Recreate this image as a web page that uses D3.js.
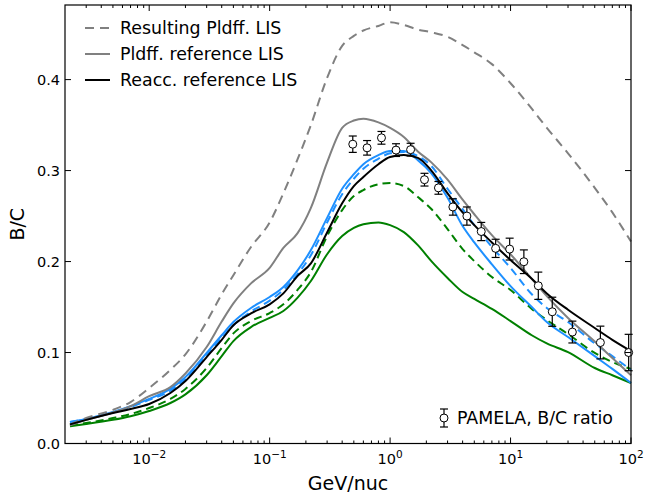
<!DOCTYPE html>
<html>
<head>
<meta charset="utf-8">
<script src="https://cdn.jsdelivr.net/npm/d3@7"></script>
<style>
  body { margin: 0; background: #fff; }
  text { font-family: "DejaVu Sans", sans-serif; fill: #000; }
</style>
</head>
<body>
<div id="chart"></div>
<script>
// kinetic energy grid (GeV/nuc) shared by the model curves
const energies = [0.0022, 0.003, 0.005, 0.007, 0.01, 0.015, 0.02, 0.03, 0.04, 0.05, 0.07,
  0.1, 0.13, 0.17, 0.22, 0.3, 0.4, 0.5, 0.6, 0.8, 1.0, 1.3, 1.7, 2.2, 3, 4, 5, 7,
  10, 15, 20, 30, 50, 70, 100];

const resultingPldff = [0.021, 0.028, 0.037, 0.0456, 0.061, 0.081, 0.098, 0.134, 0.164, 0.185, 0.216,
  0.243, 0.275, 0.312, 0.35, 0.402, 0.437, 0.448, 0.454, 0.459, 0.463, 0.46, 0.455, 0.452, 0.447, 0.438, 0.43, 0.417,
  0.396, 0.368, 0.347, 0.319, 0.281, 0.254, 0.222];
const pldffRef = [0.02, 0.026, 0.034, 0.041, 0.052, 0.062, 0.077, 0.106, 0.134, 0.154, 0.176,
  0.193, 0.215, 0.231, 0.259, 0.309, 0.347, 0.355, 0.357, 0.353, 0.347, 0.337, 0.321, 0.309, 0.29, 0.268, 0.252, 0.229,
  0.208, 0.181, 0.162, 0.138, 0.112, 0.094, 0.075];
const reaccRef = [0.021, 0.026, 0.0335, 0.038, 0.0434, 0.0555, 0.0687, 0.095, 0.114, 0.13, 0.143,
  0.153, 0.165, 0.184, 0.198, 0.232, 0.264, 0.283, 0.293, 0.307, 0.315, 0.317, 0.314, 0.3, 0.275, 0.254, 0.24, 0.221,
  0.2016, 0.181, 0.165, 0.147, 0.127, 0.114, 0.1016];
const blueSolid = [0.0236, 0.027, 0.0346, 0.041, 0.049, 0.06, 0.073, 0.0995, 0.119, 0.1335, 0.149,
  0.161, 0.172, 0.19, 0.2126, 0.248, 0.28, 0.296, 0.307, 0.317, 0.3215, 0.3215, 0.3115, 0.297, 0.27, 0.239, 0.221, 0.197,
  0.173, 0.15, 0.1335, 0.117, 0.096, 0.082, 0.0665];
const blueDashed = [0.0236, 0.027, 0.034, 0.04, 0.048, 0.058, 0.071, 0.097, 0.116, 0.13, 0.145,
  0.157, 0.169, 0.186, 0.207, 0.243, 0.274, 0.291, 0.302, 0.313, 0.319, 0.3205, 0.316, 0.305, 0.28, 0.2577, 0.24, 0.216,
  0.193, 0.164, 0.149, 0.1335, 0.11, 0.096, 0.0808];
const greenSolid = [0.019, 0.0214, 0.026, 0.03, 0.0357, 0.0445, 0.054, 0.075, 0.096, 0.1126, 0.128,
  0.138, 0.1456, 0.16, 0.1786, 0.208, 0.228, 0.237, 0.241, 0.243, 0.24, 0.2324, 0.218, 0.2005, 0.182, 0.1665, 0.159, 0.148,
  0.1346, 0.119, 0.11, 0.1005, 0.083, 0.075, 0.0665];
const greenDashed = [0.0203, 0.0225, 0.028, 0.0324, 0.039, 0.049, 0.06, 0.083, 0.105, 0.121, 0.1346,
  0.1434, 0.153, 0.1687, 0.1885, 0.228, 0.2566, 0.272, 0.2786, 0.285, 0.2863, 0.283, 0.271, 0.2577, 0.2357, 0.2137, 0.2005, 0.183,
  0.1687, 0.148, 0.1357, 0.1203, 0.0995, 0.0896, 0.0819];

// PAMELA B/C measurements
const pamelaE = [0.49, 0.644, 0.848, 1.12, 1.48, 1.93, 2.52, 3.32, 4.34, 5.71, 7.52, 9.83, 12.9, 17.0, 22.2, 32.6, 55.7, 95.6];
const pamelaBC = [0.329, 0.325, 0.336, 0.3225, 0.323, 0.29, 0.281, 0.26, 0.25, 0.233, 0.2145, 0.2137, 0.1998, 0.1734, 0.1448, 0.1225, 0.111, 0.1];
const pamelaErr = [0.009, 0.008, 0.007, 0.007, 0.007, 0.007, 0.007, 0.009, 0.01, 0.01, 0.01, 0.012, 0.013, 0.015, 0.016, 0.012, 0.018, 0.02];

const yTicks = [0, 0.1, 0.2, 0.3, 0.4];
const xTickExps = [-2, -1, 0, 1, 2];

const legendItems = ["Resulting Pldff. LIS", "Pldff. reference LIS", "Reacc. reference LIS"];

let W = 658, H = 497;
let margin = { top: 5, right: 27, bottom: 53.5, left: 65 };
let width = W - margin.left - margin.right,
  height = H - margin.top - margin.bottom;

let svg = d3.select("#chart").append("svg")
  .attr("width", W).attr("height", H);

let vis = svg.append("g")
  .attr("transform", "translate(" + margin.left + "," + margin.top + ")");

let x = d3.scaleLog().domain([0.002, 100]).range([0, width]);
let y = d3.scaleLinear().domain([0, 0.482]).range([height, 0]);

let line = d3.line()
  .x((d) => x(d[0]))
  .y((d) => y(d[1]))
  .curve(d3.curveMonotoneX);

let series = [
  { v: greenSolid, color: "#008000", dash: null },
  { v: greenDashed, color: "#008000", dash: "8,5" },
  { v: blueSolid, color: "#1e90ff", dash: null },
  { v: blueDashed, color: "#1e90ff", dash: "8,5" },
  { v: resultingPldff, color: "#808080", dash: "9,6" },
  { v: pldffRef, color: "#808080", dash: null },
  { v: reaccRef, color: "#000000", dash: null },
];

let plot = vis.append("g");
series.forEach((s) => {
  plot.append("path")
    .datum(energies.map((e, i) => [e, s.v[i]]))
    .attr("fill", "none")
    .attr("stroke", s.color)
    .attr("stroke-width", 2)
    .attr("stroke-dasharray", s.dash)
    .attr("d", line);
});

// PAMELA points with error bars
let pts = pamelaE.map((e, i) => ({ e: e, v: pamelaBC[i], err: pamelaErr[i] }));
let pg = plot.selectAll(".pt").data(pts).enter().append("g").attr("class", "pt");
pg.append("line")
  .attr("x1", (d) => x(d.e)).attr("x2", (d) => x(d.e))
  .attr("y1", (d) => y(d.v - d.err)).attr("y2", (d) => y(d.v + d.err))
  .attr("stroke", "#000").attr("stroke-width", 1.2);
pg.append("line")
  .attr("x1", (d) => x(d.e) - 4).attr("x2", (d) => x(d.e) + 4)
  .attr("y1", (d) => y(d.v - d.err)).attr("y2", (d) => y(d.v - d.err))
  .attr("stroke", "#000").attr("stroke-width", 1.2);
pg.append("line")
  .attr("x1", (d) => x(d.e) - 4).attr("x2", (d) => x(d.e) + 4)
  .attr("y1", (d) => y(d.v + d.err)).attr("y2", (d) => y(d.v + d.err))
  .attr("stroke", "#000").attr("stroke-width", 1.2);
pg.append("circle")
  .attr("cx", (d) => x(d.e)).attr("cy", (d) => y(d.v))
  .attr("r", 4)
  .attr("fill", "#fff").attr("stroke", "#000").attr("stroke-width", 1);

// ticks, pointing inward on all four sides
let majorX = xTickExps.map((p) => Math.pow(10, p));
let minorX = [];
for (let p = -3; p < 2; p++) {
  for (let m = 2; m <= 9; m++) {
    let v = m * Math.pow(10, p);
    if (v > 0.002 && v < 100) minorX.push(v);
  }
}
let ticks = vis.append("g").attr("stroke", "#000").attr("stroke-width", 1);
majorX.forEach((v) => {
  ticks.append("line").attr("x1", x(v)).attr("x2", x(v)).attr("y1", height).attr("y2", height - 6);
  ticks.append("line").attr("x1", x(v)).attr("x2", x(v)).attr("y1", 0).attr("y2", 6);
});
minorX.forEach((v) => {
  ticks.append("line").attr("x1", x(v)).attr("x2", x(v)).attr("y1", height).attr("y2", height - 3);
  ticks.append("line").attr("x1", x(v)).attr("x2", x(v)).attr("y1", 0).attr("y2", 3);
});
yTicks.forEach((v) => {
  ticks.append("line").attr("x1", 0).attr("x2", 6).attr("y1", y(v)).attr("y2", y(v));
  ticks.append("line").attr("x1", width).attr("x2", width - 6).attr("y1", y(v)).attr("y2", y(v));
});

// frame
vis.append("rect")
  .attr("width", width).attr("height", height)
  .attr("fill", "none").attr("stroke", "#000").attr("stroke-width", 1.2);

// tick labels
vis.selectAll(".ylab").data(yTicks).enter().append("text")
  .attr("x", -5).attr("y", (d) => y(d))
  .attr("dy", "0.35em")
  .attr("text-anchor", "end")
  .style("font-size", "14.5px")
  .text((d) => d.toFixed(1));

xTickExps.forEach((p) => {
  let t = vis.append("text")
    .attr("x", x(Math.pow(10, p)))
    .attr("y", height + 20)
    .attr("text-anchor", "middle")
    .style("font-size", "14.5px");
  t.append("tspan").text("10");
  t.append("tspan").attr("dy", -6).style("font-size", "10.5px").text(p < 0 ? "\u2212" + (-p) : p);
});

// axis labels
svg.append("text")
  .attr("x", margin.left + width / 2).attr("y", 490)
  .attr("text-anchor", "middle")
  .style("font-size", "19px")
  .text("GeV/nuc");
svg.append("text")
  .attr("transform", "translate(24," + (margin.top + height / 2) + ") rotate(-90)")
  .attr("text-anchor", "middle")
  .style("font-size", "19px")
  .text("B/C");

// legend (top left)
let legStyles = [series[4], series[5], series[6]];
legendItems.forEach((name, i) => {
  let ly = 28 + i * 26;
  svg.append("line")
    .attr("x1", 85).attr("x2", 110).attr("y1", ly).attr("y2", ly)
    .attr("stroke", legStyles[i].color).attr("stroke-width", 2)
    .attr("stroke-dasharray", legStyles[i].dash);
  svg.append("text")
    .attr("x", 120).attr("y", ly).attr("dy", "0.35em")
    .style("font-size", "17.4px")
    .text(name);
});

// PAMELA legend (bottom right)
let lx = 444, lyy = 418;
let leg = svg.append("g").attr("stroke", "#000").attr("stroke-width", 1.2);
leg.append("line").attr("x1", lx).attr("x2", lx).attr("y1", lyy - 9).attr("y2", lyy + 9);
leg.append("line").attr("x1", lx - 4).attr("x2", lx + 4).attr("y1", lyy - 9).attr("y2", lyy - 9);
leg.append("line").attr("x1", lx - 4).attr("x2", lx + 4).attr("y1", lyy + 9).attr("y2", lyy + 9);
leg.append("circle").attr("cx", lx).attr("cy", lyy).attr("r", 4).attr("fill", "#fff").attr("stroke-width", 1);
svg.append("text")
  .attr("x", 457).attr("y", lyy).attr("dy", "0.35em")
  .style("font-size", "17.4px")
  .text("PAMELA, B/C ratio");
</script>
</body>
</html>
